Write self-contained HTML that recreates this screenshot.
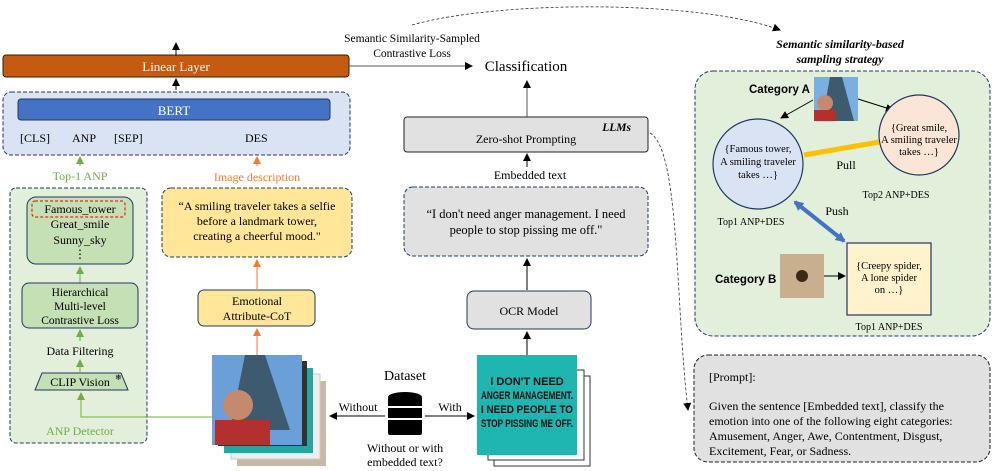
<!DOCTYPE html>
<html><head><meta charset="utf-8"><style>
html,body{margin:0;padding:0;background:#fff}
svg{display:block;font-family:"Liberation Serif",serif}
</style></head><body>
<svg width="997" height="471" viewBox="0 0 997 471" xmlns="http://www.w3.org/2000/svg">
<defs>
<marker id="ab" markerWidth="8" markerHeight="8" refX="7" refY="4" orient="auto" markerUnits="userSpaceOnUse"><path d="M0,0 L8,4 L0,8 z" fill="#000"/></marker>
<marker id="ag" markerWidth="8" markerHeight="8" refX="7" refY="4" orient="auto" markerUnits="userSpaceOnUse"><path d="M0,0 L8,4 L0,8 z" fill="#70ad47"/></marker>
<marker id="ao" markerWidth="8" markerHeight="8" refX="7" refY="4" orient="auto" markerUnits="userSpaceOnUse"><path d="M0,0 L8,4 L0,8 z" fill="#ed7d31"/></marker>
<marker id="abl" markerWidth="10" markerHeight="10" refX="8" refY="5" orient="auto" markerUnits="userSpaceOnUse"><path d="M0,0 L10,5 L0,10 z" fill="#4472c4"/></marker>
<marker id="abl2" markerWidth="10" markerHeight="10" refX="2" refY="5" orient="auto" markerUnits="userSpaceOnUse"><path d="M10,0 L0,5 L10,10 z" fill="#4472c4"/></marker>
</defs>

<path d="M412,25 C500,0 700,0 780,30" fill="none" stroke="#333" stroke-dasharray="3,2" stroke-width="0.8" marker-end="url(#ab)"/>
<path d="M650,133 C680,150 675,300 688,410" fill="none" stroke="#333" stroke-dasharray="3,2" stroke-width="0.8" marker-end="url(#ab)"/>

<rect x="3" y="55" width="346" height="22" rx="3" fill="#c55a11" stroke="#222" stroke-width="1"/>
<text x="176" y="71" text-anchor="middle" font-size="13" fill="#fff">Linear Layer</text>
<line x1="176" y1="55" x2="176" y2="43" stroke="#000" marker-end="url(#ab)"/>
<line x1="176" y1="90" x2="176" y2="79" stroke="#000" marker-end="url(#ab)"/>
<line x1="349" y1="66" x2="472" y2="66" stroke="#555" marker-end="url(#ab)"/>
<text x="412" y="42" text-anchor="middle" font-size="11.5">Semantic Similarity-Sampled</text>
<text x="412" y="57" text-anchor="middle" font-size="11.5">Contrastive Loss</text>
<text x="526" y="71" text-anchor="middle" font-size="15">Classification</text>

<rect x="3" y="92" width="347" height="63" rx="8" fill="#dae3f3" stroke="#1f3864" stroke-dasharray="4,2"/>
<rect x="18" y="99" width="312" height="21" rx="3" fill="#4472c4" stroke="#1f3864"/>
<text x="174" y="115" text-anchor="middle" font-size="13" fill="#fff">BERT</text>
<g font-size="12"><text x="20" y="142">[CLS]</text><text x="72" y="142">ANP</text><text x="114" y="142">[SEP]</text><text x="245" y="142">DES</text></g>

<line x1="80" y1="166" x2="80" y2="157" stroke="#70ad47" marker-end="url(#ag)"/>
<text x="80" y="180" text-anchor="middle" font-size="12" fill="#70ad47">Top-1 ANP</text>
<line x1="257" y1="166" x2="257" y2="157" stroke="#ed7d31" marker-end="url(#ao)"/>
<text x="257" y="181" text-anchor="middle" font-size="12" fill="#ed7d31">Image description</text>

<rect x="10" y="188" width="137" height="255" rx="6" fill="#e2efda" stroke="#1f3864" stroke-dasharray="4,2"/>
<rect x="27" y="197" width="106" height="67" rx="9" fill="#c5e0b4" stroke="#1f3864"/>
<rect x="32" y="201" width="93" height="16" rx="3" fill="none" stroke="#e00" stroke-dasharray="3,2"/>
<g font-size="12" text-anchor="middle"><text x="80" y="213">Famous_tower</text><text x="80" y="228">Great_smile</text><text x="80" y="244">Sunny_sky</text><text x="80" y="258">⋮</text></g>
<line x1="80" y1="283" x2="80" y2="267" stroke="#70ad47" marker-end="url(#ag)"/>
<rect x="22" y="283" width="116" height="45" rx="7" fill="#c5e0b4" stroke="#1f3864"/>
<g font-size="11.5" text-anchor="middle"><text x="80" y="296">Hierarchical</text><text x="80" y="310">Multi-level</text><text x="80" y="324">Contrastive Loss</text></g>
<line x1="80" y1="341" x2="80" y2="330" stroke="#70ad47" marker-end="url(#ag)"/>
<text x="80" y="355" text-anchor="middle" font-size="12">Data Filtering</text>
<line x1="80" y1="372" x2="80" y2="360" stroke="#70ad47" marker-end="url(#ag)"/>
<path d="M42,373 L121,373 L128,390 L35,390 z" fill="#c5e0b4" stroke="#1f3864"/>
<text x="80" y="386" text-anchor="middle" font-size="12">CLIP Vision</text>
<text x="115" y="380" font-size="8">❄</text>
<polyline points="212,417 81,417 81,393" fill="none" stroke="#70ad47" marker-end="url(#ag)"/>
<text x="80" y="435" text-anchor="middle" font-size="12" fill="#70ad47">ANP Detector</text>

<rect x="162" y="188" width="190" height="69" rx="9" fill="#ffe699" stroke="#1f3864" stroke-dasharray="4,2"/>
<g font-size="12" text-anchor="middle"><text x="257" y="210">“A smiling traveler takes a selfie</text><text x="257" y="225">before a landmark tower,</text><text x="257" y="240">creating a cheerful mood."</text></g>
<line x1="257" y1="289" x2="257" y2="260" stroke="#ed7d31" marker-end="url(#ao)"/>
<rect x="198" y="290" width="117" height="36" rx="6" fill="#ffe699" stroke="#1f3864"/>
<g font-size="12" text-anchor="middle"><text x="257" y="305">Emotional</text><text x="257" y="320">Attribute-CoT</text></g>
<line x1="257" y1="355" x2="257" y2="329" stroke="#ed7d31" marker-end="url(#ao)"/>

<rect x="237" y="381" width="89" height="85" fill="#c9b8a6"/>
<rect x="231" y="374" width="89" height="85" fill="#eee" stroke="#ccc"/>
<rect x="224" y="368" width="89" height="85" fill="#26a6a0"/>
<rect x="218" y="361" width="89" height="85" fill="#333"/>
<rect x="212" y="355" width="90" height="90" fill="#6a9fd8"/>
<path d="M245,355 L265,355 L290,430 L230,430 z" fill="#3e5a6e"/>
<circle cx="238" cy="405" r="15" fill="#c58a6e"/>
<rect x="215" y="420" width="55" height="25" fill="#b2312e"/>

<text x="405" y="380" text-anchor="middle" font-size="14">Dataset</text>
<g fill="#000">
<ellipse cx="405" cy="397" rx="17" ry="5"/><rect x="388" y="397" width="34" height="38" rx="2"/>
</g>
<line x1="388" y1="407" x2="422" y2="407" stroke="#fff" stroke-width="2"/>
<line x1="388" y1="419" x2="422" y2="419" stroke="#fff" stroke-width="2"/>
<line x1="385" y1="416" x2="330" y2="416" stroke="#000" marker-end="url(#ab)"/>
<line x1="425" y1="416" x2="474" y2="416" stroke="#000" marker-end="url(#ab)"/>
<text x="358" y="411" text-anchor="middle" font-size="12">Without</text>
<text x="450" y="411" text-anchor="middle" font-size="12">With</text>
<text x="405" y="452" text-anchor="middle" font-size="12">Without or with</text>
<text x="405" y="466" text-anchor="middle" font-size="12">embedded text?</text>

<rect x="494" y="376" width="96" height="90" fill="#fff" stroke="#333"/>
<rect x="488" y="370" width="96" height="90" fill="#fff" stroke="#333"/>
<rect x="477" y="355" width="100" height="100" fill="#1fb5b0"/>
<g font-family="Liberation Sans,sans-serif" font-weight="bold" font-size="11" fill="#111" text-anchor="middle">
<text x="527" y="385">I DON'T NEED</text><text x="527" y="399" textLength="92" lengthAdjust="spacingAndGlyphs">ANGER MANAGEMENT.</text><text x="527" y="413" textLength="92" lengthAdjust="spacingAndGlyphs">I NEED PEOPLE TO</text><text x="527" y="427" textLength="92" lengthAdjust="spacingAndGlyphs">STOP PISSING ME OFF.</text></g>

<line x1="527" y1="355" x2="527" y2="332" stroke="#000" marker-end="url(#ab)"/>
<rect x="467" y="291" width="124" height="38" rx="7" fill="#e1e1e1" stroke="#1f3864"/>
<text x="529" y="315" text-anchor="middle" font-size="12">OCR Model</text>
<line x1="527" y1="290" x2="527" y2="259" stroke="#000" marker-end="url(#ab)"/>
<rect x="404" y="187" width="244" height="69" rx="9" fill="#e1e1e1" stroke="#1f3864" stroke-dasharray="4,2"/>
<g font-size="12.5" text-anchor="middle"><text x="526" y="218">“I don't need anger management. I need</text><text x="526" y="234">people to stop pissing me off."</text></g>
<text x="530" y="179" text-anchor="middle" font-size="12">Embedded text</text>
<line x1="527" y1="167" x2="527" y2="154" stroke="#000" marker-end="url(#ab)"/>
<rect x="404" y="117" width="244" height="35" rx="3" fill="#e1e1e1" stroke="#222"/>
<text x="526" y="143" text-anchor="middle" font-size="12">Zero-shot Prompting</text>
<text x="631" y="131" text-anchor="end" font-size="11.5" font-weight="bold" font-style="italic">LLMs</text>
<line x1="527" y1="117" x2="527" y2="81" stroke="#555" marker-end="url(#ab)"/>

<text x="840" y="48" text-anchor="middle" font-size="12" font-weight="bold" font-style="italic">Semantic similarity-based</text>
<text x="840" y="63" text-anchor="middle" font-size="12" font-weight="bold" font-style="italic">sampling strategy</text>
<rect x="695" y="71" width="295" height="265" rx="18" fill="#e2efda" stroke="#1f3864" stroke-dasharray="4,2"/>
<g font-family="Liberation Sans,sans-serif" font-weight="bold" font-size="11.5"><text x="749" y="93">Category A</text><text x="715" y="283">Category B</text></g>
<rect x="814" y="77" width="44" height="44" fill="#7ab0e0"/>
<path d="M830,77 L842,77 L854,121 L822,121 z" fill="#3e5a6e"/>
<circle cx="825" cy="103" r="8" fill="#c58a6e"/>
<rect x="814" y="110" width="22" height="11" fill="#b2312e"/>
<line x1="813" y1="100" x2="781" y2="118" stroke="#000" marker-end="url(#ab)"/>
<line x1="858" y1="99" x2="893" y2="110" stroke="#000" marker-end="url(#ab)"/>
<circle cx="758" cy="164" r="45" fill="#dae3f3" stroke="#1f3864" stroke-width="1.2"/>
<g font-size="10.5" text-anchor="middle"><text x="758" y="152">{Famous tower,</text><text x="758" y="165">A smiling traveler</text><text x="758" y="178">takes …}</text></g>
<circle cx="919" cy="135" r="40" fill="#fbe5d6" stroke="#1f3864" stroke-width="1.2"/>
<g font-size="10.5" text-anchor="middle"><text x="919" y="131">{Great smile,</text><text x="919" y="143">A smiling traveler</text><text x="919" y="155">takes …}</text></g>
<line x1="804" y1="155" x2="879" y2="142" stroke="#ffc000" stroke-width="5"/>
<text x="846" y="169" text-anchor="middle" font-size="12">Pull</text>
<text x="896" y="198" text-anchor="middle" font-size="10">Top2 ANP+DES</text>
<text x="751" y="225" text-anchor="middle" font-size="10">Top1 ANP+DES</text>
<line x1="795" y1="202" x2="844" y2="241" stroke="#4472c4" stroke-width="4" marker-end="url(#abl)" marker-start="url(#abl2)"/>
<text x="837" y="215" text-anchor="middle" font-size="12">Push</text>
<rect x="780" y="254" width="44" height="44" fill="#c8b08e"/>
<circle cx="802" cy="276" r="6" fill="#3a2a1a"/>
<line x1="824" y1="276" x2="845" y2="276" stroke="#000" marker-end="url(#ab)"/>
<rect x="847" y="243" width="84" height="72" fill="#fff2cc" stroke="#1f3864" stroke-width="1.2"/>
<g font-size="10.5" text-anchor="middle"><text x="889" y="269">{Creepy spider,</text><text x="889" y="281">A lone spider</text><text x="889" y="293">on …}</text></g>
<text x="889" y="330" text-anchor="middle" font-size="10">Top1 ANP+DES</text>

<rect x="694" y="355" width="296" height="107" rx="14" fill="#e1e1e1" stroke="#222" stroke-dasharray="4,2"/>
<g font-size="12"><text x="709" y="381">[Prompt]:</text>
<text x="709" y="410">Given the sentence [Embedded text], classify the</text>
<text x="709" y="425">emotion into one of the following eight categories:</text>
<text x="709" y="440">Amusement, Anger, Awe, Contentment, Disgust,</text>
<text x="709" y="455">Excitement, Fear, or Sadness.</text></g>
</svg>
</body></html>
